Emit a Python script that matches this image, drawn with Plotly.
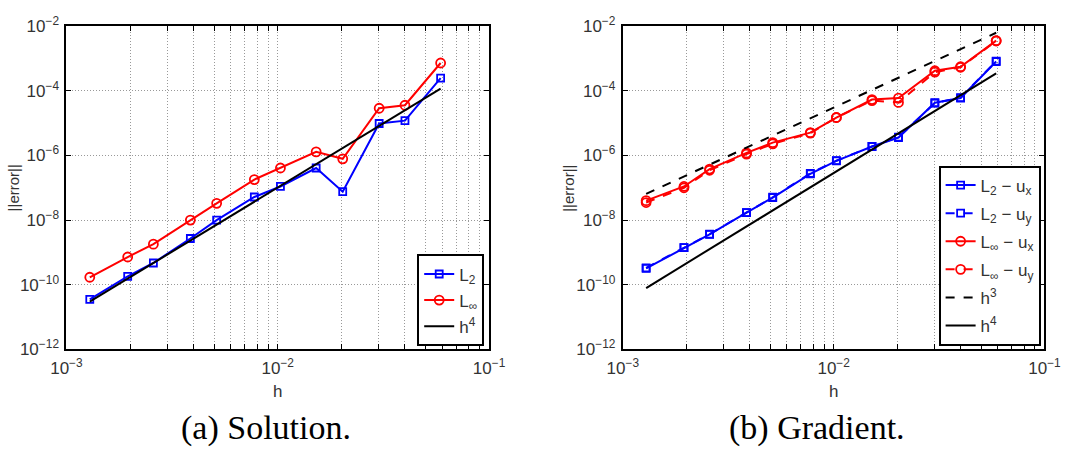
import plotly.graph_objects as go

# ---------------- data ----------------
h = [0.00129, 0.00195, 0.00258, 0.00386, 0.00514, 0.00775, 0.0103, 0.0152, 0.0203, 0.0302, 0.040, 0.059]

# (a) Solution
sol_L2 = [3.5e-11, 1.8e-10, 4.7e-10, 2.7e-9, 1.0e-8, 5.2e-8, 1.1e-7, 4.1e-7, 7.6e-8, 9.8e-6, 1.2e-5, 2.5e-4]
sol_Linf = [1.7e-10, 7.2e-10, 1.8e-9, 1.0e-8, 3.3e-8, 1.8e-7, 4.1e-7, 1.3e-6, 7.9e-7, 2.9e-5, 3.6e-5, 7.3e-4]
sol_h4_end = [3.0e-11, 1.17e-4]

# (b) Gradient
grad_L2_ux = [3.2e-10, 1.4e-9, 3.6e-9, 1.7e-8, 5.0e-8, 2.7e-7, 6.8e-7, 1.9e-6, 3.6e-6, 4.3e-5, 6.0e-5, 8.1e-4]
grad_L2_uy = [3.3e-10, 1.4e-9, 3.7e-9, 1.7e-8, 5.1e-8, 2.8e-7, 6.9e-7, 1.9e-6, 3.7e-6, 4.2e-5, 6.2e-5, 8.3e-4]
grad_Linf_ux = [4.0e-8, 1.1e-7, 3.8e-7, 1.2e-6, 2.5e-6, 5.1e-6, 1.5e-5, 5.4e-5, 6.0e-5, 4.2e-4, 5.6e-4, 3.6e-3]
grad_Linf_uy = [3.5e-8, 1.0e-7, 3.5e-7, 1.1e-6, 2.3e-6, 4.9e-6, 1.5e-5, 5.0e-5, 4.4e-5, 3.8e-4, 5.4e-4, 3.5e-3]
grad_h3_end = [6.5e-8, 6.3e-3]
grad_h4_end = [7.9e-11, 3.5e-4]

h_end = [h[0], h[-1]]

x_decades = [-3, -2, -1]
y_major = [-12, -10, -8, -6, -4, -2]

# ---------------- figure ----------------
W, H = 1077, 467
fig = go.Figure()

BLUE = "rgb(0,0,255)"
RED = "rgb(255,0,0)"
BLACK = "black"
SANS = "Liberation Sans, Arial, sans-serif"

def sq(color):
    return dict(symbol="square-open", size=7, color=color, line=dict(width=1.8, color=color))

def ci(color):
    return dict(symbol="circle-open", size=9, color=color, line=dict(width=1.8, color=color))

def add(x, y, name, color, dash, marker, ax, leg, grp):
    fig.add_trace(go.Scatter(
        x=x, y=y, mode="lines+markers" if marker else "lines", name=name,
        line=dict(color=color, width=2, dash=dash), marker=marker,
        xaxis=ax[0], yaxis=ax[1], legend=leg, legendgroup=grp))

# left
add(h, sol_L2, "L<sub>2</sub>", BLUE, "solid", sq(BLUE), ("x", "y"), "legend", "a1")
add(h, sol_Linf, "L<sub>∞</sub>", RED, "solid", ci(RED), ("x", "y"), "legend", "a2")
add(h_end, sol_h4_end, "h<sup>4</sup>", BLACK, "solid", None, ("x", "y"), "legend", "a3")

# right
add(h, grad_L2_ux, "L<sub>2</sub> − u<sub>x</sub>", BLUE, "solid", sq(BLUE), ("x2", "y2"), "legend2", "b1")
add(h, grad_L2_uy, "L<sub>2</sub> − u<sub>y</sub>", BLUE, "dash", sq(BLUE), ("x2", "y2"), "legend2", "b2")
add(h, grad_Linf_ux, "L<sub>∞</sub> − u<sub>x</sub>", RED, "solid", ci(RED), ("x2", "y2"), "legend2", "b3")
add(h, grad_Linf_uy, "L<sub>∞</sub> − u<sub>y</sub>", RED, "dash", ci(RED), ("x2", "y2"), "legend2", "b4")
add(h_end, grad_h3_end, "h<sup>3</sup>", BLACK, "dash", None, ("x2", "y2"), "legend2", "b5")
add(h_end, grad_h4_end, "h<sup>4</sup>", BLACK, "solid", None, ("x2", "y2"), "legend2", "b6")

# ticks
xt_vals, xt_text = [], []
for d in x_decades[:-1]:
    for m in range(1, 10):
        xt_vals.append(m * 10 ** d)
        xt_text.append(f"10<sup>−{-d}</sup>" if m == 1 else " ")
xt_vals.append(10 ** x_decades[-1])
xt_text.append(f"10<sup>−{-x_decades[-1]}</sup>")
yt_vals = [10 ** e for e in y_major]
yt_text = [f"10<sup>−{-e}</sup>" for e in y_major]

TICKFONT = dict(family=SANS, size=17, color="#333")
GRID = dict(showgrid=True, gridcolor="#999", griddash="1px,2px", gridwidth=1)

def xaxis_cfg(domain, anchor):
    return dict(type="log", range=[-3, -1], domain=domain, anchor=anchor,
                tickvals=xt_vals, ticktext=xt_text, ticks="inside", ticklen=5,
                tickcolor="black", showline=True, linecolor="black", linewidth=2,
                mirror="ticks", zeroline=False, tickfont=TICKFONT, ticklabelstandoff=2,
                tickangle=0,
                title=dict(text="h", font=dict(family=SANS, size=17, color="#333"), standoff=8),
                **GRID)

def yaxis_cfg(anchor):
    return dict(type="log", range=[-12, -2], domain=[1 - 354 / H, 1 - 15 / H], anchor=anchor,
                tickvals=yt_vals, ticktext=yt_text, ticks="inside", ticklen=5,
                tickcolor="black", showline=True, linecolor="black", linewidth=2,
                mirror="ticks", zeroline=False, tickfont=TICKFONT, ticklabelstandoff=2,
                **GRID)

LEGFONT = dict(family=SANS, size=17, color="#333")

ylab_font = dict(family=SANS, size=15, color="#333")
cap_font = dict(family="Liberation Serif, DejaVu Serif, serif", size=34, color="black")

fig.update_layout(
    width=W, height=H,
    margin=dict(l=0, r=0, t=0, b=0),
    paper_bgcolor="white", plot_bgcolor="white",
    xaxis=xaxis_cfg([52 / W, 488 / W], "y"),
    yaxis=yaxis_cfg("x"),
    xaxis2=xaxis_cfg([626 / W, 1061 / W], "y2"),
    yaxis2=yaxis_cfg("x2"),
    legend=dict(x=483 / W, y=1 - 351 / H, xanchor="right", yanchor="bottom",
                bordercolor="black", borderwidth=2, bgcolor="white", font=LEGFONT,
                tracegroupgap=1, itemwidth=30),
    legend2=dict(x=1057 / W, y=1 - 350 / H, xanchor="right", yanchor="bottom",
                 bordercolor="black", borderwidth=2, bgcolor="white", font=LEGFONT,
                 tracegroupgap=3, itemwidth=30),
    annotations=[
        dict(text="||error||", x=-3 / W, y=1 - 185 / H, xref="paper", yref="paper",
             showarrow=False, xanchor="center", yanchor="middle", textangle=-90, font=ylab_font),
        dict(text="||error||", x=570 / W, y=1 - 185 / H, xref="paper", yref="paper",
             showarrow=False, xanchor="center", yanchor="middle", textangle=-90, font=ylab_font),
        dict(text="(a) Solution.", x=258 / W, y=1 - 437 / H, xref="paper", yref="paper",
             showarrow=False, xanchor="center", yanchor="middle", font=cap_font),
        dict(text="(b) Gradient.", x=826 / W, y=1 - 437 / H, xref="paper", yref="paper",
             showarrow=False, xanchor="center", yanchor="middle", font=cap_font),
    ],
)

fig.write_html("out.html")
